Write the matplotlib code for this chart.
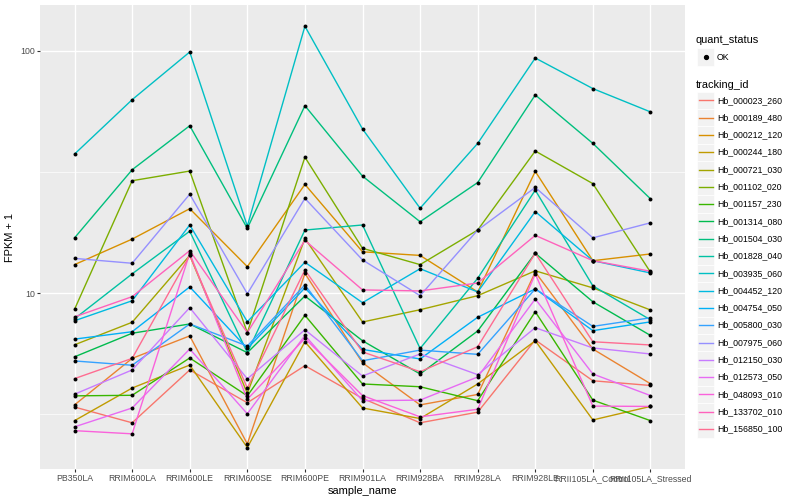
import matplotlib
matplotlib.use("Agg")
import matplotlib.pyplot as plt
from matplotlib.lines import Line2D
from matplotlib.patches import Rectangle
import numpy as np

plt.rcParams['font.family'] = ['Liberation Sans', 'DejaVu Sans']

samples = ["PB350LA", "RRIM600LA", "RRIM600LE", "RRIM600SE", "RRIM600PE", "RRIM901LA",
           "RRIM928BA", "RRIM928LA", "RRIM928LE", "RRII105LA_Control", "RRII105LA_Stressed"]

tracking_ids = ["Hb_000023_260", "Hb_000189_480", "Hb_000212_120", "Hb_000244_180",
                "Hb_000721_030", "Hb_001102_020", "Hb_001157_230", "Hb_001314_080",
                "Hb_001504_030", "Hb_001828_040", "Hb_003935_060", "Hb_004452_120",
                "Hb_004754_050", "Hb_005800_030", "Hb_007975_060", "Hb_012150_030",
                "Hb_012573_050", "Hb_048093_010", "Hb_133702_010", "Hb_156850_100"]

hb_000023_260 = [3.38, 2.91, 4.81, 3.52, 5.01, 3.67, 2.91, 3.22, 6.4, 4.34, 4.15]
hb_000189_480 = [3.45, 5.37, 6.65, 2.38, 12.05, 5.15, 3.45, 3.81, 12.2, 5.87, 4.22]
hb_000212_120 = [13.1, 16.7, 22.3, 12.85, 28.1, 14.8, 14.3, 10.1, 31.8, 13.6, 14.5]
hb_000244_180 = [2.97, 4.05, 5.04, 2.30, 6.29, 3.35, 3.03, 4.21, 6.35, 2.99, 3.4]
hb_000721_030 = [6.11, 7.57, 14.3, 3.85, 16.8, 7.59, 8.53, 9.75, 12.35, 10.5, 8.51]
hb_001102_020 = [8.57, 29.1, 31.9, 6.86, 36.4, 15.3, 13.1, 18.2, 38.6, 28.3, 12.2]
hb_001157_230 = [3.76, 3.78, 5.39, 3.76, 8.09, 4.21, 4.10, 3.59, 8.37, 3.61, 2.97]
hb_001314_080 = [5.45, 6.82, 7.45, 5.67, 9.72, 6.35, 4.63, 6.97, 14.6, 9.2, 6.68]
hb_001504_030 = [16.9, 32.3, 49.1, 18.5, 59.4, 30.4, 19.7, 28.6, 65.8, 41.5, 24.5]
hb_001828_040 = [7.83, 12.0, 18.0, 5.67, 18.2, 19.1, 5.9, 11.5, 26.6, 10.7, 7.75]
hb_003935_060 = [37.5, 62.9, 99.0, 18.9, 126.5, 47.6, 22.4, 41.5, 93.5, 69.9, 56.0]
hb_004452_120 = [7.68, 9.29, 19.1, 7.61, 13.4, 9.12, 12.6, 10.1, 21.7, 13.6, 12.1]
hb_004754_050 = [6.45, 6.92, 10.6, 5.9, 10.5, 5.85, 5.34, 7.94, 10.4, 6.99, 7.6]
hb_005800_030 = [5.24, 5.03, 7.45, 6.04, 10.8, 5.25, 5.81, 5.58, 10.4, 7.28, 7.9]
hb_007975_060 = [13.9, 13.27, 25.6, 9.93, 24.6, 13.7, 9.75, 18.2, 27.3, 16.9, 19.5]
hb_012150_030 = [3.82, 4.81, 8.7, 4.42, 7.05, 4.54, 5.6, 4.6, 7.19, 5.93, 5.6]
hb_012573_050 = [2.80, 3.35, 5.87, 3.17, 6.68, 3.59, 3.61, 4.5, 9.45, 4.63, 3.77]
hb_048093_010 = [2.70, 2.62, 14.6, 3.64, 6.5, 3.77, 3.08, 3.31, 12.0, 3.41, 3.4]
hb_133702_010 = [7.97, 9.66, 14.96, 6.86, 16.5, 10.3, 10.2, 11.0, 17.3, 13.6, 12.3]
hb_156850_100 = [4.43, 5.37, 14.3, 4.05, 12.45, 5.71, 4.73, 6.0, 14.6, 6.29, 6.1]

series = [hb_000023_260, hb_000189_480, hb_000212_120, hb_000244_180, hb_000721_030,
          hb_001102_020, hb_001157_230, hb_001314_080, hb_001504_030, hb_001828_040,
          hb_003935_060, hb_004452_120, hb_004754_050, hb_005800_030, hb_007975_060,
          hb_012150_030, hb_012573_050, hb_048093_010, hb_133702_010, hb_156850_100]

colors = ["#F8766D", "#EA8331", "#D89000", "#C09B00", "#A3A500", "#7CAE00", "#39B600",
          "#00BB4E", "#00BF7D", "#00C1A3", "#00BFC4", "#00BAE0", "#00B0F6", "#35A2FF",
          "#9590FF", "#C77CFF", "#E76BF3", "#FA62DB", "#FF62BC", "#FF6C91"]

W, H = 800, 500
fig = plt.figure(figsize=(8, 5), dpi=100)
L, R, T, B = 40, 685, 5, 469
ax = fig.add_axes([L / W, 1 - B / H, (R - L) / W, (B - T) / H])
ax.set_facecolor("#EBEBEB")
for s in ax.spines.values():
    s.set_visible(False)

x = np.arange(len(samples))
for vals, c in zip(series, colors):
    ax.plot(x, vals, color=c, lw=1.0, zorder=3)
for vals in series:
    ax.scatter(x, vals, s=8, color="black", zorder=4, linewidths=0)

ax.set_yscale("log")
ax.set_ylim(1.875, 154.8)
ax.set_xlim(-0.6, len(samples) - 0.4)
ax.set_yticks([10, 100])
ax.set_yticklabels(["10", "100"])
ax.yaxis.set_minor_locator(matplotlib.ticker.FixedLocator([10 ** 0.5, 10 ** 1.5]))
ax.yaxis.set_minor_formatter(matplotlib.ticker.NullFormatter())
ax.set_xticks(x)
ax.set_xticklabels(samples)
ax.grid(True, which="major", color="white", lw=1.0, zorder=0)
ax.grid(True, which="minor", axis="y", color="white", lw=0.5, zorder=0)
ax.set_axisbelow(True)
ax.tick_params(axis="both", which="major", length=2.0, width=0.8, color="#333333",
               labelcolor="#4D4D4D", labelsize=6.3, pad=1.5)
ax.tick_params(axis="y", which="minor", length=0)
ax.set_xlabel("sample_name", fontsize=7.9, labelpad=2.5)
ax.set_ylabel("FPKM + 1", fontsize=7.9, labelpad=4)


def fx(px):
    return px / W


def fy(py):
    return 1 - py / H


# legend: quant_status
fig.text(fx(696), fy(40), "quant_status", fontsize=7.9, va="center", ha="left")
kx0, kx1 = 697, 714
ks = 17.3
fig.add_artist(Rectangle((fx(kx0), fy(57 + ks / 2)), (kx1 - kx0) / W, ks / H,
                         transform=fig.transFigure, facecolor="#F2F2F2", edgecolor="white",
                         lw=0.5))
fig.add_artist(Line2D([fx((kx0 + kx1) / 2)], [fy(57)], marker="o", ms=2.8, color="black",
                      lw=0, transform=fig.transFigure))
fig.text(fx(717), fy(57), "OK", fontsize=6.3, va="center", ha="left")

fig.text(fx(696), fy(85), "tracking_id", fontsize=7.9, va="center", ha="left")
for i, (tid, c) in enumerate(zip(tracking_ids, colors)):
    yc = 100.3 + ks * i
    fig.add_artist(Rectangle((fx(kx0), fy(yc + ks / 2)), (kx1 - kx0) / W, ks / H,
                             transform=fig.transFigure, facecolor="#F2F2F2",
                             edgecolor="white", lw=0.5))
    fig.add_artist(Line2D([fx(kx0 + 1.5), fx(kx1 - 1.5)], [fy(yc), fy(yc)], color=c, lw=1.0,
                          transform=fig.transFigure))
    fig.text(fx(717), fy(yc), tid, fontsize=6.3, va="center", ha="left")

fig.savefig("out.png", dpi=100)
